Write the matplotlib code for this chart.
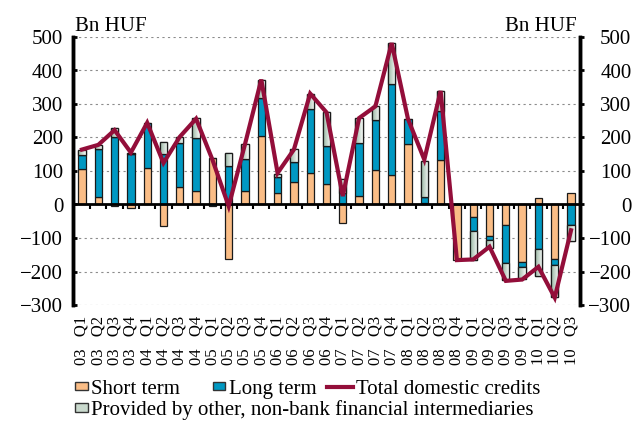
import numpy as np
import matplotlib
matplotlib.use("Agg")
import matplotlib.pyplot as plt
import matplotlib.patches as mpatches
from matplotlib.lines import Line2D
from matplotlib.legend_handler import HandlerPatch
from matplotlib.colors import LinearSegmentedColormap

plt.rcParams['font.family'] = ['Liberation Serif', 'DejaVu Serif']

years = ['03', '04', '05', '06', '07', '08', '09', '10']
quarters = ['Q1', 'Q2', 'Q3', 'Q4']
labels = [f"{y}   {q}" for y in years for q in quarters][:31]

# Bn HUF
short_term = [105, 21, -5, -10, 109, -64, 51, 41, 139, -164, 40, 204, 34, 66, 95, 62,
              -56, 25, 103, 87, 181, 3, 134, -166, -37, -93, -62, -171, 20, -164, 33]
long_term = [43, 144, 202, 152, 135, 150, 134, 157, -5, 115, 97, 114, 49, 61, 191, 113,
             33, 160, 150, 272, 74, 20, 145, 0, -42, -13, -112, -15, -132, -17, -60]
non_bank = [16, 12, 27, 3, 0, 36, 17, 61, 0, 40, 43, 53, 9, 40, 43, 101,
            44, 73, 40, 123, 0, 108, 60, 0, -87, -23, -52, -35, -81, -96, -49]
total_credits = [164, 178, 222, 155, 244, 124, 202, 256, 134, -5, 180, 373, 94, 164, 331, 275,
                 25, 258, 293, 482, 255, 134, 339, -166, -164, -126, -228, -224, -186, -278, -77]

c_short = '#fabd86'
c_long = '#0098c2'
c_nonbank = '#c9d9cd'
c_line = '#930e3a'
nb_cmap = LinearSegmentedColormap.from_list('nb', ['#98b5a2', '#f7faf7'])

fig = plt.figure(figsize=(6.33, 4.23), dpi=100)
ax = fig.add_axes([73 / 633, 1 - 305 / 423, 507 / 633, 268 / 423])

x = np.arange(len(labels))
pos = np.zeros(len(x))
neg = np.zeros(len(x))
nb_bars = None
for vals, col in [(short_term, c_short), (long_term, c_long), (non_bank, c_nonbank)]:
    v = np.array(vals, dtype=float)
    bottom = np.where(v >= 0, pos, neg)
    bars = ax.bar(x, v, width=0.45, bottom=bottom, color=col, edgecolor='#1a1a1a',
                  linewidth=0.9, zorder=2)
    pos += np.where(v >= 0, v, 0)
    neg += np.where(v < 0, v, 0)
    nb_bars = bars

# shaded fill for the non-bank segments
grad = np.linspace(0, 1, 32).reshape(1, -1)
for r in nb_bars:
    h = r.get_height()
    if h == 0:
        continue
    x0, y0, w = r.get_x(), r.get_y(), r.get_width()
    im = ax.imshow(grad, extent=[x0, x0 + w, min(y0, y0 + h), max(y0, y0 + h)],
                   aspect='auto', cmap=nb_cmap, zorder=2.2, interpolation='bilinear')
    im.set_clip_path(r)
    ax.add_patch(mpatches.Rectangle((x0, y0), w, h, fill=False, edgecolor='#1a1a1a',
                                    linewidth=0.9, zorder=2.3))

ax.axhline(0, color='black', lw=2, zorder=3)
ax.vlines(np.arange(len(x) - 1) + 0.5, -13, 0, color='black', lw=1.5, zorder=3)
ax.plot(x, total_credits, color=c_line, lw=3, zorder=4, solid_joinstyle='miter')

ax.set_xlim(-0.55, len(x) - 0.45)
ax.set_ylim(-300, 500)
ax.set_yticks(np.arange(-300, 501, 100))
ax.yaxis.grid(True, linestyle=(0, (2, 3)), color='#8c8c8c', lw=0.8)
ax.set_axisbelow(True)
ax.set_xticks(x)
ax.set_xticklabels(labels, rotation=90, fontsize=12)
ax.tick_params(axis='x', length=0, pad=8)
ax.tick_params(axis='y', direction='in', length=3, width=2, labelsize=15, pad=7)

ax2 = ax.twinx()
ax2.set_ylim(-300, 500)
ax2.set_yticks(np.arange(-300, 501, 100))
ax2.tick_params(axis='y', direction='out', length=3, width=2, labelsize=15, pad=34)
for t in ax2.get_yticklabels():
    t.set_horizontalalignment('right')

for a in (ax, ax2):
    a.spines['top'].set_visible(False)
    a.spines['bottom'].set_visible(False)
    a.spines['left'].set_linewidth(2.5)
    a.spines['right'].set_linewidth(2.5)

fig.text(75 / 633, 1 - 31 / 423, 'Bn HUF', fontsize=15, ha='left', va='baseline')
fig.text(577 / 633, 1 - 31 / 423, 'Bn HUF', fontsize=15, ha='right', va='baseline')


def small_rect(legend, orig_handle, xdescent, ydescent, width, height, fontsize):
    return mpatches.Rectangle((-xdescent, -ydescent + height * 0.15), width, height * 0.7)


entries = [
    (mpatches.Patch(facecolor=c_short, edgecolor='#333333'), 'Short term', 75, 389, 0.6),
    (mpatches.Patch(facecolor=c_long, edgecolor='#333333'), 'Long term', 213, 389, 0.6),
    (Line2D([], [], color=c_line, lw=3), 'Total domestic credits', 327, 389, 1.25),
    (mpatches.Patch(facecolor=c_nonbank, edgecolor='#333333'),
     'Provided by other, non-bank financial intermediaries', 75, 410, 0.6),
]
for h, lab, px, py, hl in entries:
    fig.legend(handles=[h], labels=[lab], loc='center left',
               bbox_to_anchor=(px / 633, 1 - py / 423), frameon=False,
               fontsize=15, handlelength=hl, handleheight=0.5, handletextpad=0.15,
               borderpad=0, borderaxespad=0,
               handler_map={mpatches.Patch: HandlerPatch(patch_func=small_rect)})

fig.savefig('out.png', dpi=100)
